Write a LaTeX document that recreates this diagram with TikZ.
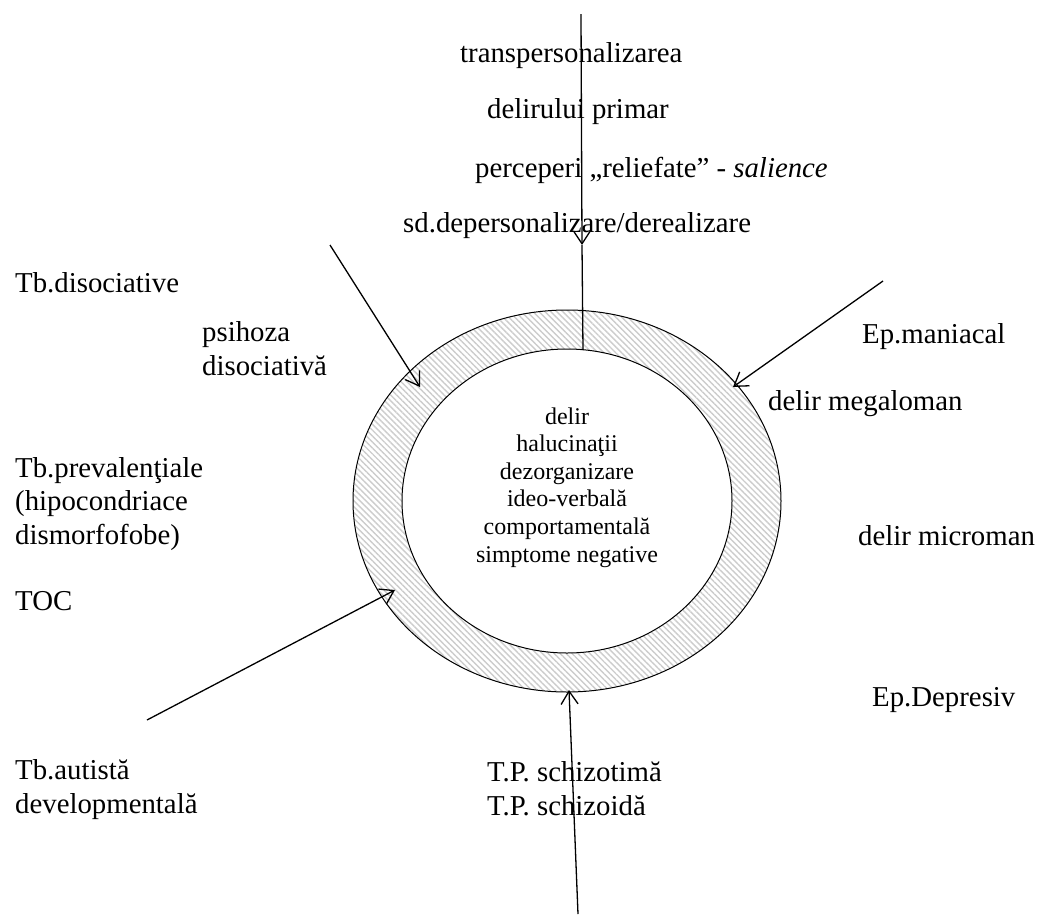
\documentclass[tikz,border=0pt]{standalone}
\usepackage{fontspec}
\setmainfont{Liberation Serif}
\usetikzlibrary{arrows.meta,patterns.meta,shapes.geometric}
\begin{document}
\begin{tikzpicture}[x=1pt,y=-1pt,
  lbl/.style={anchor=base west, inner sep=0pt, align=left,
    font=\fontsize{28.8}{33.1}\selectfont},
  inner/.style={anchor=base, inner sep=0pt, align=center,
    font=\fontsize{24}{27.6}\selectfont},
  core/.style={ellipse, draw, line width=1pt, fill=white,
    minimum width=330pt, minimum height=304pt, inner sep=0pt},
  feed/.style={line width=1.3pt,
    -{Straight Barb[length=13pt,width=17pt]}},
  plain/.style={line width=1.3pt}]
\useasboundingbox (0,0) rectangle (1042,919);

% hatched ring around the core
\coordinate (c) at (567,501);
\path[pattern={Lines[angle=-45,distance=4.2pt,line width=1.4pt]},
      pattern color=gray!40, even odd rule]
  (c) ellipse [x radius=214, y radius=191]
  (c) ellipse [x radius=165, y radius=152];
\draw[line width=1pt] (c) ellipse [x radius=214, y radius=191];
\node[core] (core) at (c) {};

% core symptoms (a multi-line node sits on the baseline of its last line)
\node[inner] (symptoms) at (567,562)
  {delir\\halucinaţii\\dezorganizare\\ideo-verbală\\comportamentală\\simptome negative};

% labels above
\node[lbl] (trans)  at (460,62)  {transpersonalizarea};
\node[lbl] (prim)   at (487,118) {delirului primar};
\node[lbl] (salien) at (475,177) {perceperi „reliefate” - \textit{salience}};
\node[lbl] (deper)  at (403,232) {sd.depersonalizare/derealizare};

% labels on the left
\node[lbl] (disoc)  at (15,292)  {Tb.disociative};
\node[lbl] (psih)   at (202,375) {psihoza\\disociativă};
\node[lbl] (preval) at (15,544)  {Tb.prevalenţiale\\(hipocondriace\\dismorfofobe)};
\node[lbl] (toc)    at (15,610)  {TOC};
\node[lbl] (autist) at (15,813)  {Tb.autistă\\developmentală};

% labels on the right
\node[lbl] (mania)  at (862,343) {Ep.maniacal};
\node[lbl] (megal)  at (768,410) {delir megaloman};
\node[lbl] (micro)  at (858,545) {delir microman};
\node[lbl] (depres) at (872,706) {Ep.Depresiv};

% labels below
\node[lbl] (tp)     at (487,815) {T.P. schizotimă\\T.P. schizoidă};

% connector ends
\coordinate (topend)  at (581,14);
\coordinate (toptip)  at (582,245);
\coordinate (topfoot) at (583,350);
\coordinate (ulend) at (330,245);
\coordinate (ultip) at (420,387);
\coordinate (urend) at (883,281);
\coordinate (urtip) at (733,387);
\coordinate (llend) at (147,720);
\coordinate (lltip) at (395,590);
\coordinate (botend) at (578,914);
\coordinate (bottip) at (569,690);

% connectors
\draw[feed]  (topend) -- (toptip);
\draw[plain] (toptip) -- (topfoot);
\draw[feed]  (ulend) -- (ultip);
\draw[feed]  (urend) -- (urtip);
\draw[feed]  (llend) -- (lltip);
\draw[feed]  (botend) -- (bottip);
\end{tikzpicture}
\end{document}
